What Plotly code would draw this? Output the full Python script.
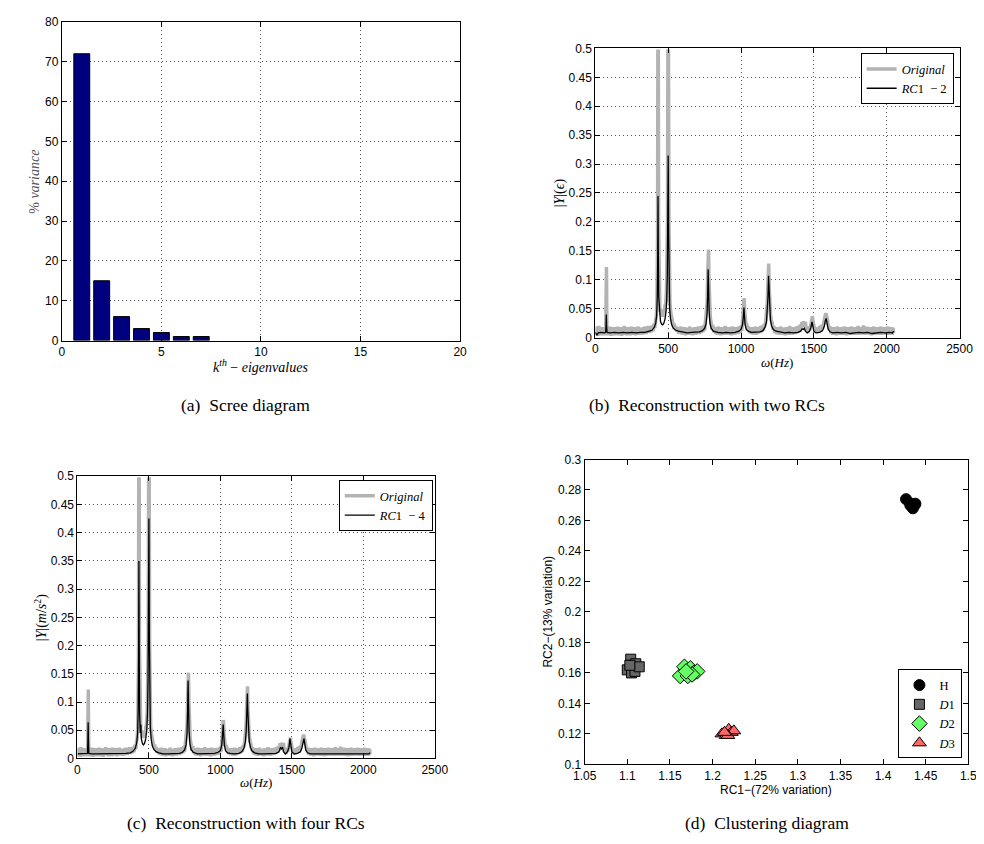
import plotly.graph_objects as go

W, H = 984, 844

# ---------------- data ----------------
# (a) scree diagram
eig_k = [1, 2, 3, 4, 5, 6, 7]
eig_pct = [72, 15, 6, 3, 2, 1, 1]

# (b),(c) original spectrum  (frequency Hz, |Y|)
original_pts = [
    (0, 0.019), (6, 0.004), (12, 0.017), (18, 0.003), (24, 0.02), (30, 0.005), (36, 0.016), (42, 0.004),
    (48, 0.018), (54, 0.006), (60, 0.015), (66, 0.004), (71, 0.02), (74, 0.122), (76, 0.122), (79, 0.018),
    (84, 0.004), (90, 0.017), (96, 0.005), (102, 0.019), (108, 0.003), (114, 0.016), (120, 0.006), (126, 0.018),
    (132, 0.004), (138, 0.015), (144, 0.005), (150, 0.019), (156, 0.004), (162, 0.016), (168, 0.006), (174, 0.018),
    (180, 0.003), (186, 0.017), (192, 0.005), (198, 0.02), (204, 0.006), (210, 0.016), (216, 0.004), (222, 0.018),
    (228, 0.006), (234, 0.015), (240, 0.004), (246, 0.019), (252, 0.005), (258, 0.017), (264, 0.006), (270, 0.018),
    (276, 0.004), (282, 0.016), (288, 0.006), (294, 0.019), (300, 0.005), (306, 0.017), (312, 0.006), (318, 0.015),
    (324, 0.005), (330, 0.018), (336, 0.007), (342, 0.019), (348, 0.006), (354, 0.017), (360, 0.008), (366, 0.02),
    (372, 0.008), (378, 0.018), (384, 0.009), (390, 0.021), (396, 0.011), (402, 0.024), (408, 0.016), (413, 0.03),
    (418, 0.035), (422, 0.055), (425, 0.09), (427, 0.18), (429, 0.495), (432, 0.495), (434, 0.2), (436, 0.1),
    (439, 0.065), (443, 0.045), (448, 0.05), (453, 0.038), (458, 0.046), (463, 0.036), (468, 0.048), (473, 0.042),
    (478, 0.055), (483, 0.06), (488, 0.08), (492, 0.12), (495, 0.2), (498, 0.495), (502, 0.495), (505, 0.2),
    (508, 0.1), (512, 0.06), (517, 0.045), (522, 0.034), (528, 0.03), (534, 0.022), (540, 0.024), (546, 0.015),
    (552, 0.02), (558, 0.01), (564, 0.018), (570, 0.007), (576, 0.017), (582, 0.006), (588, 0.019), (594, 0.005),
    (600, 0.016), (606, 0.006), (612, 0.018), (618, 0.004), (624, 0.017), (630, 0.006), (636, 0.015), (642, 0.005),
    (648, 0.019), (654, 0.006), (660, 0.017), (666, 0.004), (672, 0.016), (678, 0.006), (684, 0.018), (690, 0.005),
    (696, 0.017), (702, 0.007), (708, 0.019), (714, 0.006), (720, 0.018), (726, 0.008), (732, 0.02), (738, 0.009),
    (744, 0.022), (750, 0.012), (756, 0.026), (762, 0.035), (767, 0.06), (771, 0.11), (774, 0.152), (777, 0.152),
    (780, 0.1), (784, 0.055), (789, 0.035), (795, 0.025), (801, 0.014), (807, 0.022), (813, 0.009), (819, 0.018),
    (825, 0.006), (831, 0.017), (837, 0.005), (843, 0.019), (849, 0.006), (855, 0.016), (861, 0.004), (867, 0.018),
    (873, 0.006), (879, 0.017), (885, 0.005), (891, 0.02), (897, 0.006), (903, 0.016), (909, 0.005), (915, 0.018),
    (921, 0.006), (927, 0.017), (933, 0.004), (939, 0.019), (945, 0.006), (951, 0.016), (957, 0.005), (963, 0.018),
    (969, 0.007), (975, 0.017), (981, 0.006), (987, 0.019), (993, 0.008), (999, 0.021), (1005, 0.012), (1010, 0.028),
    (1014, 0.04), (1017, 0.055), (1020, 0.068), (1022, 0.066), (1025, 0.045), (1029, 0.03), (1034, 0.022), (1040, 0.024),
    (1046, 0.012), (1052, 0.019), (1058, 0.008), (1064, 0.017), (1070, 0.006), (1076, 0.018), (1082, 0.005), (1088, 0.016),
    (1094, 0.006), (1100, 0.019), (1106, 0.005), (1112, 0.017), (1118, 0.007), (1124, 0.018), (1130, 0.008), (1136, 0.02),
    (1142, 0.009), (1148, 0.021), (1154, 0.012), (1160, 0.024), (1166, 0.02), (1171, 0.032), (1176, 0.042), (1180, 0.06),
    (1184, 0.09), (1187, 0.128), (1190, 0.128), (1193, 0.09), (1197, 0.06), (1202, 0.04), (1208, 0.03), (1214, 0.025),
    (1220, 0.014), (1226, 0.02), (1232, 0.008), (1238, 0.017), (1244, 0.006), (1250, 0.018), (1256, 0.005), (1262, 0.016),
    (1268, 0.006), (1274, 0.019), (1280, 0.005), (1286, 0.017), (1292, 0.006), (1298, 0.015), (1304, 0.004), (1310, 0.018),
    (1316, 0.006), (1322, 0.017), (1328, 0.005), (1334, 0.02), (1340, 0.006), (1346, 0.016), (1352, 0.005), (1358, 0.018),
    (1364, 0.007), (1370, 0.017), (1376, 0.006), (1382, 0.019), (1388, 0.008), (1394, 0.02), (1400, 0.01), (1406, 0.022),
    (1412, 0.014), (1418, 0.027), (1424, 0.018), (1430, 0.028), (1436, 0.02), (1442, 0.027), (1448, 0.012), (1454, 0.019),
    (1460, 0.008), (1466, 0.015), (1472, 0.012), (1477, 0.022), (1482, 0.03), (1486, 0.037), (1490, 0.037), (1494, 0.028),
    (1499, 0.018), (1505, 0.015), (1511, 0.01), (1517, 0.017), (1523, 0.008), (1529, 0.018), (1535, 0.009), (1541, 0.02),
    (1547, 0.01), (1553, 0.022), (1559, 0.014), (1565, 0.026), (1570, 0.03), (1575, 0.035), (1580, 0.04), (1585, 0.04),
    (1590, 0.034), (1595, 0.026), (1600, 0.02), (1606, 0.013), (1612, 0.019), (1618, 0.007), (1624, 0.017), (1630, 0.005),
    (1636, 0.018), (1642, 0.006), (1648, 0.016), (1654, 0.004), (1660, 0.019), (1666, 0.006), (1672, 0.017), (1678, 0.005),
    (1684, 0.018), (1690, 0.006), (1696, 0.016), (1702, 0.005), (1708, 0.019), (1714, 0.006), (1720, 0.017), (1726, 0.004),
    (1732, 0.018), (1738, 0.006), (1744, 0.016), (1750, 0.005), (1756, 0.019), (1762, 0.006), (1768, 0.017), (1774, 0.005),
    (1780, 0.018), (1786, 0.006), (1792, 0.016), (1798, 0.005), (1804, 0.02), (1810, 0.006), (1816, 0.017), (1822, 0.005),
    (1828, 0.018), (1834, 0.006), (1840, 0.021), (1846, 0.005), (1852, 0.017), (1858, 0.006), (1864, 0.019), (1870, 0.005),
    (1876, 0.016), (1882, 0.006), (1888, 0.018), (1894, 0.004), (1900, 0.017), (1906, 0.006), (1912, 0.019), (1918, 0.005),
    (1924, 0.016), (1930, 0.006), (1936, 0.018), (1942, 0.005), (1948, 0.017), (1954, 0.006), (1960, 0.019), (1966, 0.005),
    (1972, 0.016), (1978, 0.006), (1984, 0.018), (1990, 0.005), (1996, 0.017), (2002, 0.006), (2008, 0.019), (2014, 0.005),
    (2020, 0.016), (2026, 0.006), (2032, 0.018), (2038, 0.005), (2044, 0.017), (2048, 0.008),
]

# (b) reconstruction with RC1-2
rc12_pts = [
    (0, 0.009), (10, 0.004), (20, 0.008), (40, 0.009), (60, 0.008), (70, 0.009), (73, 0.02), (75, 0.04),
    (77, 0.02), (80, 0.009), (100, 0.008), (130, 0.009), (160, 0.008), (190, 0.009), (220, 0.008), (250, 0.009),
    (280, 0.008), (310, 0.009), (340, 0.009), (370, 0.011), (390, 0.013), (405, 0.018), (415, 0.026), (421, 0.04),
    (425, 0.07), (428, 0.14), (430, 0.245), (432, 0.15), (435, 0.07), (440, 0.04), (447, 0.028), (455, 0.023),
    (462, 0.022), (470, 0.025), (478, 0.032), (485, 0.045), (490, 0.065), (494, 0.11), (497, 0.19), (500, 0.315),
    (503, 0.18), (506, 0.09), (510, 0.05), (516, 0.032), (524, 0.022), (535, 0.016), (550, 0.013), (570, 0.011),
    (600, 0.009), (630, 0.008), (660, 0.009), (690, 0.009), (715, 0.01), (735, 0.012), (750, 0.016), (760, 0.024),
    (767, 0.042), (771, 0.075), (774, 0.118), (777, 0.09), (781, 0.045), (787, 0.025), (795, 0.016), (810, 0.011),
    (840, 0.009), (870, 0.008), (900, 0.009), (930, 0.008), (960, 0.009), (985, 0.011), (1000, 0.014), (1010, 0.022),
    (1016, 0.036), (1020, 0.052), (1023, 0.04), (1028, 0.022), (1036, 0.014), (1050, 0.011), (1070, 0.009), (1100, 0.009),
    (1130, 0.01), (1150, 0.012), (1165, 0.018), (1175, 0.028), (1181, 0.045), (1185, 0.07), (1189, 0.107), (1192, 0.08),
    (1196, 0.05), (1202, 0.03), (1210, 0.02), (1222, 0.014), (1240, 0.011), (1270, 0.009), (1300, 0.008), (1330, 0.009),
    (1360, 0.008), (1390, 0.009), (1410, 0.011), (1420, 0.015), (1428, 0.014), (1435, 0.016), (1442, 0.011), (1455, 0.008),
    (1470, 0.011), (1480, 0.018), (1487, 0.027), (1492, 0.022), (1500, 0.011), (1515, 0.008), (1540, 0.009), (1560, 0.012),
    (1572, 0.02), (1580, 0.03), (1585, 0.033), (1590, 0.026), (1598, 0.015), (1610, 0.01), (1630, 0.008), (1660, 0.009),
    (1690, 0.008), (1720, 0.009), (1750, 0.007), (1780, 0.008), (1810, 0.009), (1840, 0.008), (1870, 0.009), (1900, 0.007),
    (1930, 0.008), (1960, 0.009), (1990, 0.008), (2020, 0.009), (2040, 0.008), (2048, 0.011),
]

# (c) reconstruction with RC1-4
rc14_pts = [
    (0, 0.008), (20, 0.008), (40, 0.008), (60, 0.008), (70, 0.009), (73, 0.03), (75, 0.064), (77, 0.03),
    (80, 0.009), (100, 0.008), (130, 0.008), (160, 0.008), (190, 0.008), (220, 0.008), (250, 0.008), (280, 0.008),
    (310, 0.008), (340, 0.009), (370, 0.01), (390, 0.013), (405, 0.018), (415, 0.028), (421, 0.045), (425, 0.085),
    (428, 0.19), (430, 0.35), (432, 0.2), (435, 0.08), (440, 0.045), (444, 0.06), (447, 0.035), (455, 0.026),
    (462, 0.024), (470, 0.027), (478, 0.035), (485, 0.05), (490, 0.08), (494, 0.14), (497, 0.25), (500, 0.425),
    (503, 0.22), (506, 0.1), (510, 0.055), (516, 0.034), (524, 0.022), (535, 0.016), (550, 0.012), (570, 0.01),
    (600, 0.008), (630, 0.008), (660, 0.008), (690, 0.008), (715, 0.009), (735, 0.011), (750, 0.015), (760, 0.024),
    (767, 0.045), (771, 0.085), (774, 0.138), (777, 0.1), (781, 0.05), (787, 0.026), (795, 0.016), (810, 0.011),
    (840, 0.008), (870, 0.008), (900, 0.008), (930, 0.008), (960, 0.009), (985, 0.011), (1000, 0.014), (1010, 0.024),
    (1016, 0.04), (1020, 0.06), (1023, 0.045), (1028, 0.024), (1036, 0.014), (1050, 0.01), (1070, 0.009), (1100, 0.008),
    (1130, 0.009), (1150, 0.012), (1165, 0.018), (1175, 0.03), (1181, 0.05), (1185, 0.078), (1189, 0.115), (1192, 0.085),
    (1196, 0.052), (1202, 0.03), (1210, 0.02), (1222, 0.013), (1240, 0.01), (1270, 0.008), (1300, 0.008), (1330, 0.008),
    (1360, 0.008), (1390, 0.009), (1410, 0.012), (1420, 0.019), (1428, 0.017), (1435, 0.02), (1442, 0.012), (1455, 0.008),
    (1470, 0.012), (1480, 0.02), (1487, 0.035), (1492, 0.026), (1500, 0.012), (1515, 0.008), (1540, 0.009), (1560, 0.012),
    (1572, 0.02), (1580, 0.03), (1585, 0.035), (1590, 0.027), (1598, 0.015), (1610, 0.01), (1630, 0.008), (1660, 0.008),
    (1690, 0.008), (1720, 0.008), (1750, 0.008), (1780, 0.008), (1810, 0.008), (1840, 0.008), (1870, 0.008), (1900, 0.008),
    (1930, 0.008), (1960, 0.008), (1990, 0.008), (2020, 0.008), (2040, 0.008), (2048, 0.01),
]

# (d) clustering diagram: RC1 score, RC2 score
h_rc1 = [1.427, 1.432, 1.435, 1.437, 1.434, 1.438, 1.433]
h_rc2 = [0.274, 0.270, 0.268, 0.270, 0.269, 0.271, 0.271]
d1_rc1 = [1.104, 1.100, 1.106, 1.110, 1.105, 1.109, 1.114, 1.103]
d1_rc2 = [0.169, 0.162, 0.165, 0.166, 0.160, 0.161, 0.164, 0.165]
d2_rc1 = [1.162, 1.167, 1.171, 1.174, 1.178, 1.182, 1.176, 1.169]
d2_rc2 = [0.158, 0.164, 0.158, 0.163, 0.160, 0.161, 0.159, 0.161]
d3_rc1 = [1.211, 1.216, 1.219, 1.222, 1.225, 1.218, 1.214]
d3_rc2 = [0.120, 0.119, 0.123, 0.121, 0.122, 0.119, 0.121]

# ---------------- helpers ----------------
def px_x(p):
    return p / W

def px_y(p):
    return 1 - p / H

SANS = "Liberation Sans, Arial, Helvetica, sans-serif"
SERIF = "Liberation Serif, Times New Roman, serif"
GRAY = "#b3b3b3"

fig = go.Figure()

# (a) bars
fig.add_trace(go.Bar(x=eig_k, y=eig_pct, width=0.8, marker=dict(color="#00007f", line=dict(color="black", width=1)),
                     xaxis="x", yaxis="y", showlegend=False))

# (b)
of = [p[0] for p in original_pts]
oa = [p[1] for p in original_pts]
fig.add_trace(go.Scatter(x=of, y=oa, mode="lines", line=dict(color=GRAY, width=3.5), name="<i>Original</i>",
                         xaxis="x2", yaxis="y2", legend="legend"))
fig.add_trace(go.Scatter(x=[p[0] for p in rc12_pts], y=[p[1] for p in rc12_pts], mode="lines",
                         line=dict(color="black", width=1.3), name="<i>RC</i>1  − 2",
                         xaxis="x2", yaxis="y2", legend="legend"))
# (c)
fig.add_trace(go.Scatter(x=of, y=oa, mode="lines", line=dict(color=GRAY, width=3.5), name="<i>Original</i>",
                         xaxis="x3", yaxis="y3", legend="legend2"))
fig.add_trace(go.Scatter(x=[p[0] for p in rc14_pts], y=[p[1] for p in rc14_pts], mode="lines",
                         line=dict(color="black", width=1.3), name="<i>RC</i>1  − 4",
                         xaxis="x3", yaxis="y3", legend="legend2"))
# (d)
mk = dict(line=dict(color="black", width=1))
fig.add_trace(go.Scatter(x=h_rc1, y=h_rc2, mode="markers", name="H",
                         marker=dict(symbol="circle", size=11, color="black", **mk),
                         xaxis="x4", yaxis="y4", legend="legend3"))
fig.add_trace(go.Scatter(x=d1_rc1, y=d1_rc2, mode="markers", name="<i>D</i>1",
                         marker=dict(symbol="square", size=10, color="#666666", **mk),
                         xaxis="x4", yaxis="y4", legend="legend3"))
fig.add_trace(go.Scatter(x=d2_rc1, y=d2_rc2, mode="markers", name="<i>D</i>2",
                         marker=dict(symbol="diamond", size=12, color="#66ff66", **mk),
                         xaxis="x4", yaxis="y4", legend="legend3"))
fig.add_trace(go.Scatter(x=d3_rc1, y=d3_rc2, mode="markers", name="<i>D</i>3",
                         marker=dict(symbol="triangle-up", size=12, color="#ff6666", **mk),
                         xaxis="x4", yaxis="y4", legend="legend3"))

def ax(domain, rng, dtick, anchor, grid=True):
    return dict(domain=domain, range=rng, dtick=dtick, tick0=0, anchor=anchor,
                showline=True, linecolor="black", linewidth=1, mirror="ticks",
                ticks="inside", ticklen=5, tickcolor="black", tickwidth=1,
                showgrid=grid, gridcolor="#555555", griddash="1px,3px", gridwidth=1,
                zeroline=False, tickfont=dict(family=SANS, size=12, color="black"))

legend_common = dict(bgcolor="white", bordercolor="black", borderwidth=1,
                     font=dict(family=SERIF, size=12.5, color="black"),
                     tracegroupgap=0, itemwidth=30)

fig.update_layout(
    width=W, height=H, margin=dict(l=0, r=0, t=0, b=0),
    paper_bgcolor="white", plot_bgcolor="white",
    xaxis=ax([px_x(43), px_x(452)], [0, 20], 5, "y"),
    yaxis=ax([px_y(331), px_y(7)], [0, 80], 10, "x"),
    xaxis2=ax([px_x(591), px_x(965)], [0, 2500], 500, "y2"),
    yaxis2=ax([px_y(328), px_y(34)], [0, 0.5], 0.05, "x2"),
    xaxis3=ax([px_x(59), px_x(426)], [0, 2500], 500, "y3"),
    yaxis3=ax([px_y(756), px_y(469)], [0, 0.5], 0.05, "x3"),
    xaxis4=ax([px_x(580), px_x(974)], [1.05, 1.5], 0.05, "y4", grid=False),
    yaxis4=ax([px_y(762), px_y(452)], [0.1, 0.3], 0.02, "x4", grid=False),
    legend=dict(x=px_x(959), y=px_y(39), xanchor="right", yanchor="top", **legend_common),
    legend2=dict(x=px_x(424), y=px_y(473), xanchor="right", yanchor="top", **legend_common),
    legend3=dict(x=px_x(968), y=px_y(756), xanchor="right", yanchor="bottom", **legend_common),
    bargap=0.2,
)

def label(text, x, y, angle=0, family=SERIF, size=11, color="black"):
    fig.add_annotation(text=text, x=px_x(x), y=px_y(y), xref="paper", yref="paper",
                       showarrow=False, textangle=angle, xanchor="center", yanchor="middle",
                       font=dict(family=family, size=size, color=color))

# axis titles
label("% <i>variance</i>", 15, 170, angle=-90, size=14, color="#555555")
label("<i>k</i><sup><i>th</i></sup> − <i>eigenvalues</i>", 247, 357, size=14)
label("|<i>Y</i>|(<i>ϵ</i>)", 555, 181, angle=-90, size=14)
label("<i>ω</i>(<i>Hz</i>)", 778, 353, size=13)
label("|<i>Y</i>|(<i>m</i>/<i>s</i><sup>2</sup>)", 22, 613, angle=-90, size=14)
label("<i>ω</i>(<i>Hz</i>)", 242, 780, size=13)
label("RC2−(13% variation)", 542, 607, angle=-90, family=SANS, size=12)
label("RC1−(72% variation)", 777, 788, family=SANS, size=12)

# captions
label("(a)  Scree diagram", 232, 397, size=17.5)
label("(b)  Reconstruction with two RCs", 706, 397, size=17.5)
label("(c)  Reconstruction with four RCs", 232, 822, size=17.5)
label("(d)  Clustering diagram", 767, 822, size=17.5)

fig.write_html("out.html")
